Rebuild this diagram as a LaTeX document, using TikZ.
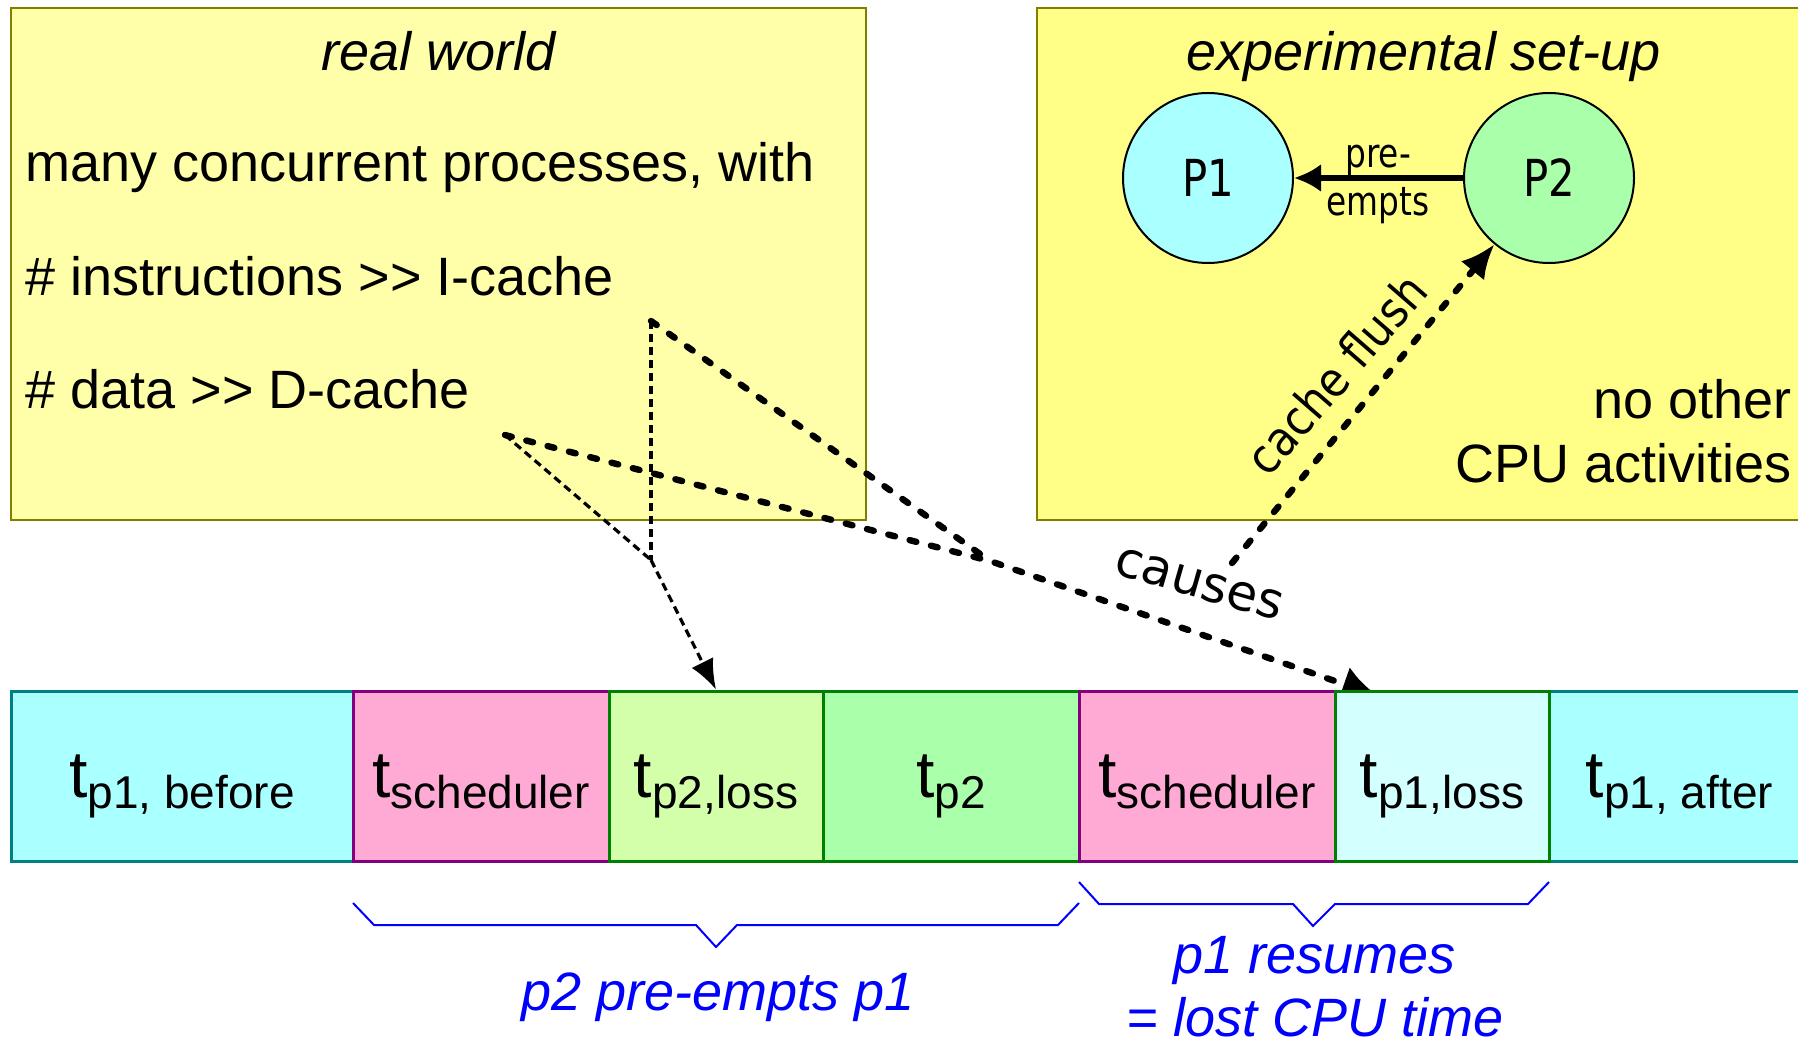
\documentclass[tikz,border=0pt]{standalone}
\usepackage{fontspec}
\setmainfont{Liberation Sans}
\newfontfamily\dvc[FakeStretch=0.82]{DejaVu Sans}
\newfontfamily\dvm[FakeStretch=0.9]{DejaVu Sans}
\newfontfamily\dv{DejaVu Sans}
\usetikzlibrary{arrows.meta}
\pgfdeclarelayer{back}
\pgfdeclarelayer{mid}
\pgfsetlayers{back,mid,main}
\definecolor{boxA}{RGB}{255,255,170}
\definecolor{boxB}{RGB}{255,255,136}
\definecolor{oliveB}{RGB}{128,128,0}
\definecolor{cyanA}{RGB}{170,255,255}
\definecolor{cyanB}{RGB}{212,255,255}
\definecolor{greenA}{RGB}{170,255,170}
\definecolor{greenB}{RGB}{212,255,170}
\definecolor{pinkA}{RGB}{255,170,212}
\definecolor{tealB}{RGB}{0,128,128}
\definecolor{purpB}{RGB}{128,0,128}
\definecolor{greenD}{RGB}{0,128,0}
\definecolor{blueL}{RGB}{0,0,255}
\newcommand\tlab[1]{{\fontsize{33}{33}\selectfont t}{\fontsize{23}{23}\selectfont\raisebox{-5.5pt}{#1}}}
\begin{document}
\begin{tikzpicture}[x=0.5pt,y=-0.5pt,
  ybox/.style={rectangle,draw=oliveB,line width=1.25pt,inner sep=0,minimum height=256pt},
  txt/.style={inner sep=0,font=\fontsize{27}{27}\selectfont},
  itxt/.style={inner sep=0,font=\fontsize{27}{27}\selectfont\itshape},
  proc/.style={circle,draw=black,line width=1pt,minimum size=85pt,inner sep=0,font=\dvc\fontsize{25.5}{25.5}\selectfont},
  small/.style={inner sep=0,font=\dvc\fontsize{20}{20}\selectfont},
  seg/.style={rectangle,line width=1.5pt,minimum height=85pt,inner sep=0,text height=21pt,text depth=0pt},
  thindash/.style={line width=1.6pt,dash pattern=on 4pt off 2.5pt},
  thickdash/.style={line width=3.2pt,line cap=round,dash pattern=on 3.5pt off 7.5pt},
  brace/.style={draw=blueL,line width=1pt},
  blab/.style={inner sep=0,text=blueL,font=\fontsize{27}{27}\selectfont\itshape}]
\useasboundingbox (0,0) rectangle (1798,1043);

% yellow panels
\begin{pgfonlayer}{back}
\node[ybox,fill=boxA,minimum width=427.5pt] (left) at (438.5,264) {};
\node[ybox,fill=boxB,minimum width=387pt] (right) at (1424,264) {};
\end{pgfonlayer}

\node[itxt,anchor=base] (rw) at (438.5,71) {real world};
\node[txt,anchor=base west] (l1) at (25,182) {many concurrent processes, with};
\node[txt,anchor=base west] (l2) at (25,295) {\# instructions >\kern0pt> I-cache};
\node[txt,anchor=base west] (l3) at (25,408) {\# data >\kern0pt> D-cache};

\node[itxt,anchor=base] (es) at (1424,71) {experimental set-up};
\node[txt,anchor=base east] (no1) at (1792,418) {no other};
\node[txt,anchor=base east] (no2) at (1792,482) {CPU activities};

\node[proc,fill=cyanA] (P1) at (1208,178) {P1};
\node[proc,fill=greenA] (P2) at (1549,178) {P2};
\draw[line width=3pt,-{Latex[length=13.5pt,width=14pt]}] (P2) -- (P1);
\node[small,anchor=base] (pre) at (1378,168) {pre-};
\node[small,anchor=base] (empts) at (1378,216) {empts};

% time line
\node[seg,draw=tealB,fill=cyanA,minimum width=171pt] (s1) at (182,776) {\tlab{p1, before}};
\node[seg,draw=tealB,fill=cyanA,minimum width=130.5pt] (s7) at (1679.5,776) {\tlab{p1, after}};
\node[seg,draw=greenD,fill=greenA,minimum width=128pt] (s4) at (951,776) {\tlab{p2}};
\node[seg,draw=purpB,fill=pinkA,minimum width=128pt] (s2) at (481,776) {\tlab{scheduler}};
\node[seg,draw=purpB,fill=pinkA,minimum width=128pt] (s5) at (1207,776) {\tlab{scheduler}};
\node[seg,draw=greenD,fill=greenB,minimum width=107pt] (s3) at (716,776) {\tlab{p2,loss}};
\node[seg,draw=greenD,fill=cyanB,minimum width=107pt] (s6) at (1442,776) {\tlab{p1,loss}};

% dashed connectors
\coordinate (srcI) at (651,321);
\coordinate (srcD) at (505,435);
\coordinate (jT) at (651,560);
\coordinate (jK) at (990,561);
\coordinate (endK) at (1378,696);
\coordinate (cfs) at (1232,563);
\begin{pgfonlayer}{mid}
\draw[thindash] (srcI) -- (jT);
\draw[thindash] (srcD) -- (jT);
\draw[thindash,-{Latex[length=15pt,width=12pt]}] (jT) -- (s3.north);
\draw[thickdash] (srcI) -- (jK);
\draw[thickdash,-{Latex[length=18pt,width=18pt]}] (srcD) -- (jK) -- (endK);
\draw[thickdash,-{Latex[length=17pt,width=15pt]}] (cfs) -- (P2);
\end{pgfonlayer}
\node[inner sep=0,rotate=-16,font=\dv\fontsize{25}{25}\selectfont] (causes) at (1199,584) {causes};
\node[inner sep=0,rotate=49,font=\dvm\fontsize{24}{24}\selectfont] (cf) at (1336,374) {cache flush};

% braces
\draw[brace] (353,903) -- (374,925) -- (696,925) -- (716,947) -- (737,925) -- (1058,925) -- (1079,903);
\draw[brace] (1079,882) -- (1099,904) -- (1293,904) -- (1313,926) -- (1335,904) -- (1528,904) -- (1549,882);
\node[blab,anchor=base] (b1) at (718,1010) {p2 pre-empts p1};
\node[blab,anchor=base] (b2) at (1315,973) {p1 resumes};
\node[blab,anchor=base] (b3) at (1315,1036) {= lost CPU time};
\end{tikzpicture}
\end{document}
